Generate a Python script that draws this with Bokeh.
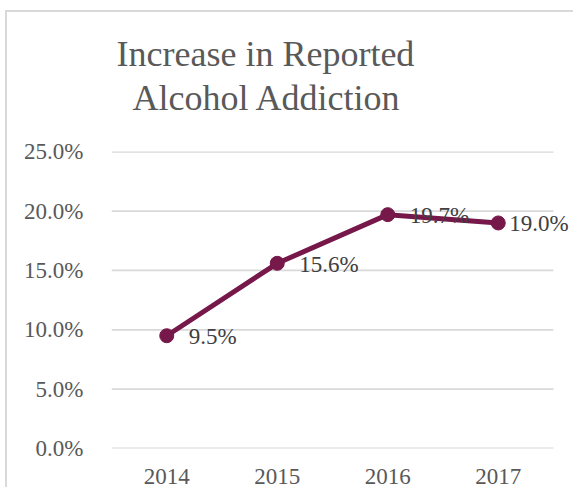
from bokeh.plotting import figure
from bokeh.models import ColumnDataSource, Range1d, NumeralTickFormatter, Title, Label, FixedTicker
from bokeh.embed import file_html
from bokeh.resources import INLINE

years = ["2014", "2015", "2016", "2017"]
values = [0.095, 0.156, 0.197, 0.190]
labels = ["9.5%", "15.6%", "19.7%", "19.0%"]
y_ticks = [0.0, 0.05, 0.10, 0.15, 0.20, 0.25]
title_lines = ["Increase in Reported", "Alcohol Addiction"]

FONT = "Liberation Serif"
LINE = "#76184A"
GRID = "#d9d9d9"
label_dx = [22, 22, 22, 11]

# category slots: each year sits in the middle of its slot
n = len(years)
xpos = [i + 0.5 for i in range(n)]
src = ColumnDataSource(dict(x=xpos, y=values))
grid_src = ColumnDataSource(dict(x0=[0] * len(y_ticks), x1=[n] * len(y_ticks), y=y_ticks))

W, H = 568, 477
# categories occupy 442px; frame extended to the right edge so labels are not clipped
x_end = n * (W - 104) / 442

p = figure(width=W, height=H, x_range=Range1d(0, x_end), y_range=Range1d(0, 0.2502),
           output_backend="svg", toolbar_location=None,
           min_border_left=104, min_border_right=0, min_border_top=139, min_border_bottom=H + 12 - 448)
p.styles = {"margin-left": "5px", "margin-top": "10px",
            "border-left": "2px solid " + GRID, "border-top": "2px solid " + GRID}
p.outline_line_color = None
p.background_fill_color = "white"
p.border_fill_color = "white"

p.title.text = ""
# added nearest-to-frame first
p.add_layout(Title(text=title_lines[1], align="left", offset=21, standoff=68, text_font=FONT,
                   text_font_size="36px", text_font_style="normal", text_color="#595959"), "above")
p.add_layout(Title(text=title_lines[0], align="left", offset=5, standoff=-64, text_font=FONT,
                   text_font_size="36px", text_font_style="normal", text_color="#595959"), "above")

yticker = FixedTicker(ticks=y_ticks)
p.yaxis.ticker = yticker
p.xaxis.ticker = FixedTicker(ticks=xpos)
p.xaxis.major_label_overrides = {x: yr for x, yr in zip(xpos, years)}
p.xgrid.grid_line_color = None
p.ygrid.grid_line_color = None

p.segment(x0="x0", x1="x1", y0="y", y1="y", source=grid_src, line_color=GRID, line_width=1.8)

p.yaxis.formatter = NumeralTickFormatter(format="0.0%")
for ax in (p.xaxis[0], p.yaxis[0]):
    ax.major_tick_line_color = None
    ax.minor_tick_line_color = None
    ax.axis_line_color = None
    ax.major_label_text_font = FONT
    ax.major_label_text_font_size = "23px"
    ax.major_label_text_color = "#595959"
p.yaxis.major_label_standoff = 22
p.xaxis.major_label_standoff = 14

p.line("x", "y", source=src, line_color=LINE, line_width=5)
p.scatter("x", "y", source=src, size=14, fill_color=LINE, line_color=LINE)
for x, v, lab, dx in zip(xpos, values, labels, label_dx):
    p.add_layout(Label(x=x, y=v, text=lab, x_offset=dx, y_offset=-1,
                       text_baseline="middle", text_font=FONT, text_font_size="23px",
                       text_color="#404040"))

open("out.html", "w").write(file_html(p, INLINE))
